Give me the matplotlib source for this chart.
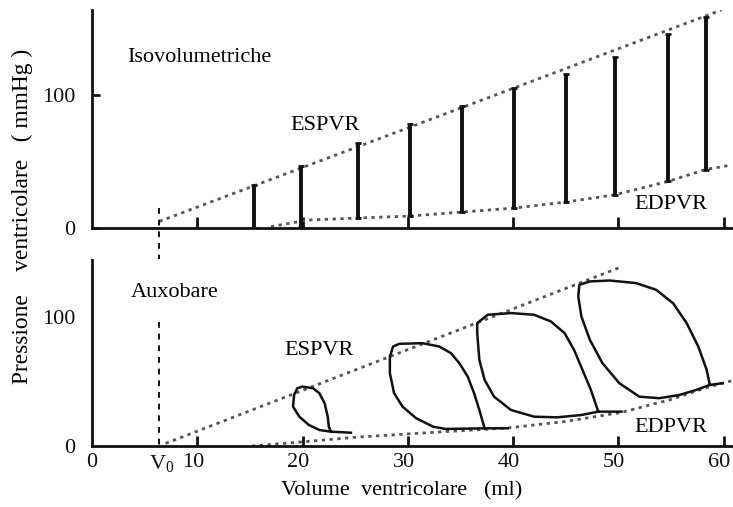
import matplotlib
matplotlib.use("Agg")
import matplotlib.pyplot as plt
import matplotlib.transforms as mtransforms

plt.rcParams["font.family"] = ["Liberation Serif", "DejaVu Serif"]
plt.rcParams["mathtext.fontset"] = "custom"
plt.rcParams["mathtext.rm"] = "Liberation Serif"
plt.rcParams["mathtext.it"] = "Liberation Serif:italic"

# ---- data (volume in ml, pressure in mmHg) ----
v0 = 6.4

# isovolumetric beats: volume, end-diastolic pressure, peak systolic pressure
iso_volume = [15.4, 19.9, 25.3, 30.2, 35.2, 40.1, 45.0, 49.7, 54.7, 58.3]
iso_p_low = [0, 1, 7.5, 9, 12, 15, 19.5, 25, 35, 44]
iso_p_high = [32, 47, 64, 78, 92, 105, 116, 129, 146, 159]

espvr_top_v = [6.4, 59.8]
espvr_top_p = [5, 164]
edpvr_top_v = [17.0, 20.5, 25.3, 30.2, 35.2, 40.1, 45.0, 49.7, 54.7, 58.3, 60.5]
edpvr_top_p = [1, 6, 7.5, 9, 12, 15, 19.5, 25, 35, 44, 47]

espvr_bot_v = [7.0, 50.4]
espvr_bot_p = [2, 139]
edpvr_bot_v = [15.2, 19.7, 25.4, 33.3, 39.5, 45.0, 50.3, 55.0, 58.7, 61.0]
edpvr_bot_p = [0, 3, 7, 11, 14, 19, 26, 36, 46, 51]

# auxobaric pressure-volume loops
loop1_v = [24.6, 22.7, 22.5, 22.4, 22.1, 21.6, 21.0, 20.0, 19.5, 19.2, 19.1,
           19.7, 20.6, 21.6, 22.7]
loop1_p = [10.3, 11.1, 15.0, 22.7, 33.1, 40.9, 44.7, 46.0, 44.7, 39.5, 30.5,
           22.7, 16.3, 12.4, 11.1]

loop2_v = [39.5, 37.3, 36.8, 36.3, 35.7, 34.9, 34.1, 33.0, 31.4, 29.2, 28.6,
           28.3, 28.3, 28.7, 29.5, 30.8, 32.4, 33.6, 37.3]
loop2_p = [13.7, 13.7, 27.9, 40.9, 53.7, 64.1, 71.9, 77.0, 79.6, 79.1, 77.0,
           69.2, 56.4, 40.9, 30.5, 21.5, 15.0, 13.2, 13.7]

loop3_v = [50.3, 48.1, 47.4, 46.6, 45.8, 44.9, 43.6, 42.0, 39.8, 37.6, 36.6,
           36.6, 36.8, 37.3, 38.2, 39.8, 42.0, 44.2, 46.5, 48.1]
loop3_p = [26.6, 26.6, 43.4, 58.9, 74.4, 87.4, 96.4, 101.6, 102.9, 101.6, 95.1,
           87.4, 66.7, 51.2, 38.2, 27.9, 22.7, 22.2, 24.0, 26.6]

loop4_v = [59.9, 58.7, 58.4, 57.6, 56.5, 55.2, 53.6, 51.7, 49.2, 47.3, 46.3,
           46.2, 46.5, 47.3, 48.5, 50.1, 52.0, 53.9, 55.8, 57.4, 58.7]
loop4_p = [48.6, 47.3, 58.9, 77.0, 95.1, 110.6, 120.9, 126.1, 128.1, 127.4, 124.8,
           115.7, 100.2, 82.2, 64.1, 48.6, 38.2, 37.0, 39.5, 43.4, 47.3]

x_ticks = [0, v0, 10, 20, 30, 40, 50, 60]
x_ticklabels = ["0", r"V$_0$", "10", "20", "30", "40", "50", "60"]
y_ticks = [0, 100]

ink = "#111111"
dot_color = "#555555"
dotted = (0, (1.2, 1.6))

fig = plt.figure(figsize=(7.33, 5.07), dpi=100)
ax_top = fig.add_axes([0.1255, 0.5503, 0.8745, 0.4300])
ax_bot = fig.add_axes([0.1255, 0.1203, 0.8745, 0.3669])

for ax, ytop in ((ax_top, 164), (ax_bot, 144)):
    ax.set_xlim(0, 60.9)
    ax.set_ylim(0, ytop)
    for side in ("top", "right"):
        ax.spines[side].set_visible(False)
    for side in ("left", "bottom"):
        ax.spines[side].set_linewidth(2.0)
        ax.spines[side].set_color(ink)
    ax.set_yticks(y_ticks)
    ax.set_yticklabels([str(t) for t in y_ticks], fontsize=16)
    ax.tick_params(axis="y", direction="in", length=6, width=2, pad=12, colors=ink)
    ax.tick_params(axis="x", direction="in", length=7, width=2, colors=ink)

# top panel: no volume labels
ax_top.set_xticks([10, 20, 30, 40, 50, 60])
ax_top.set_xticklabels([])
ax_top.tick_params(axis="x", length=8)
ax_bot.set_xticks(x_ticks)
ax_bot.set_xticklabels(x_ticklabels, fontsize=16)
ax_bot.tick_params(axis="x", pad=5)
ax_bot.tick_params(axis="y", length=0)
ax_bot.xaxis.get_major_ticks()[0].tick1line.set_visible(False)
ax_bot.xaxis.get_major_ticks()[1].tick1line.set_visible(False)
# the two-digit volume labels sit a little left of their ticks
shift = mtransforms.ScaledTranslation(-4 / 100, 0, fig.dpi_scale_trans)
for lbl in ax_bot.get_xticklabels()[2:]:
    lbl.set_transform(lbl.get_transform() + shift)
v0_shift = mtransforms.ScaledTranslation(2 / 100, 0, fig.dpi_scale_trans)
v0_lbl = ax_bot.get_xticklabels()[1]
v0_lbl.set_transform(v0_lbl.get_transform() + v0_shift)

# ---- isovolumetric panel ----
ax_top.plot(espvr_top_v, espvr_top_p, ls=dotted, lw=2, color=dot_color)
ax_top.plot(edpvr_top_v, edpvr_top_p, ls=dotted, lw=2, color=dot_color)
ax_top.vlines(iso_volume, iso_p_low, iso_p_high, colors=ink, lw=2.8)
ax_top.plot(iso_volume, iso_p_high, ls="none", marker="_", ms=4, mew=2, color=ink)
ax_top.plot(iso_volume, iso_p_low, ls="none", marker="_", ms=4, mew=2, color=ink)
ax_top.plot([v0, v0], [15, -23], ls=(0, (3, 3)), lw=1.4, color=ink, clip_on=False)

ax_top.text(10.2, 128, "Isovolumetriche", fontsize=16, ha="center", va="center")
ax_top.text(22.1, 77, "ESPVR", fontsize=16, ha="center", va="center")
ax_top.text(55.0, 18, "EDPVR", fontsize=16, ha="center", va="center")

# ---- auxobaric panel ----
ax_bot.plot(espvr_bot_v, espvr_bot_p, ls=dotted, lw=2, color=dot_color)
ax_bot.plot(edpvr_bot_v, edpvr_bot_p, ls=dotted, lw=2, color=dot_color)
for lv, lp in ((loop1_v, loop1_p), (loop2_v, loop2_p),
               (loop3_v, loop3_p), (loop4_v, loop4_p)):
    ax_bot.plot(lv, lp, color=ink, lw=1.8, solid_joinstyle="round")
ax_bot.plot([v0, v0], [96, 0], ls=(0, (3, 3)), lw=1.4, color=ink)

ax_bot.text(7.9, 118.5, "Auxobare", fontsize=16, ha="center", va="center")
ax_bot.text(21.6, 74, "ESPVR", fontsize=16, ha="center", va="center")
ax_bot.text(55.0, 14, "EDPVR", fontsize=16, ha="center", va="center")

# axis titles
fig.text(402 / 733, 1 - 491 / 507, "Volume  ventricolare   (ml)",
         fontsize=16, ha="center", va="center")
fig.text(22 / 733, 1 - 216 / 507, "Pressione    ventricolare   ( mmHg )",
         fontsize=16.8, ha="center", va="center", rotation=90)

fig.savefig("out.png", dpi=100)
